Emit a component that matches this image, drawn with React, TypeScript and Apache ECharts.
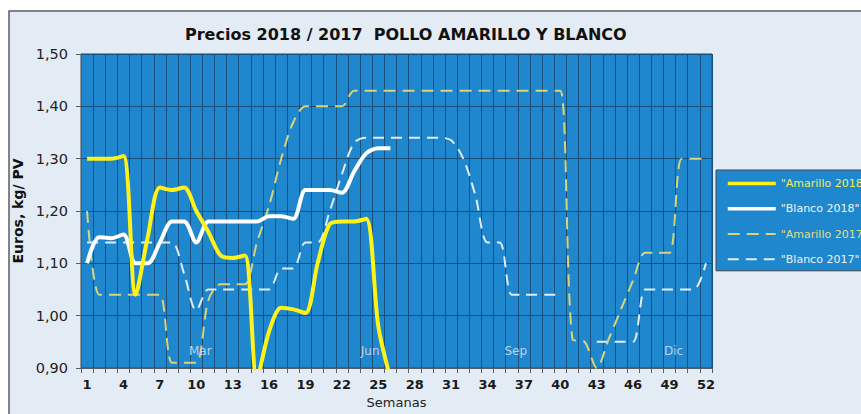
import React, { useEffect, useRef } from "react";
import * as echarts from "echarts";

const weeks = [
  "1", "2", "3", "4", "5", "6", "7", "8", "9", "10", "11", "12", "13",
  "14", "15", "16", "17", "18", "19", "20", "21", "22", "23", "24", "25", "26",
  "27", "28", "29", "30", "31", "32", "33", "34", "35", "36", "37", "38", "39",
  "40", "41", "42", "43", "44", "45", "46", "47", "48", "49", "50", "51", "52",
];

const amarillo2018 = [
  1.30, 1.30, 1.30, 1.305, 1.04, 1.15, 1.245, 1.24, 1.245, 1.20, 1.16, 1.115, 1.11,
  1.115, 0.88, 0.97, 1.015, 1.012, 1.005, 1.10, 1.175, 1.18, 1.18, 1.185, 0.98, 0.88,
  null, null, null, null, null, null, null, null, null, null, null, null, null,
  null, null, null, null, null, null, null, null, null, null, null, null, null,
];

const blanco2018 = [
  1.10, 1.15, 1.148, 1.155, 1.10, 1.10, 1.14, 1.18, 1.18, 1.14, 1.18, 1.18, 1.18,
  1.18, 1.18, 1.19, 1.19, 1.185, 1.24, 1.24, 1.24, 1.235, 1.275, 1.31, 1.32, 1.32,
  null, null, null, null, null, null, null, null, null, null, null, null, null,
  null, null, null, null, null, null, null, null, null, null, null, null, null,
];

const amarillo2017 = [
  1.20, 1.04, 1.04, 1.04, 1.04, 1.04, 1.04, 0.91, 0.91, 0.91, 1.03, 1.06, 1.06,
  1.06, 1.14, 1.21, 1.30, 1.37, 1.40, 1.40, 1.40, 1.40, 1.43, 1.43, 1.43, 1.43,
  1.43, 1.43, 1.43, 1.43, 1.43, 1.43, 1.43, 1.43, 1.43, 1.43, 1.43, 1.43, 1.43,
  1.43, 0.955, 0.95, 0.90, 0.956, 1.012, 1.068, 1.12, 1.12, 1.12, 1.30, 1.30, 1.30,
];

const blanco2017 = [
  1.14, 1.14, 1.14, 1.14, 1.14, 1.14, 1.14, 1.14, 1.08, 1.01, 1.05, 1.05, 1.05,
  1.05, 1.05, 1.05, 1.09, 1.09, 1.14, 1.14, 1.20, 1.27, 1.33, 1.34, 1.34, 1.34,
  1.34, 1.34, 1.34, 1.34, 1.335, 1.30, 1.23, 1.14, 1.14, 1.04, 1.04, 1.04, 1.04,
  1.04, null, null, 0.95, 0.95, 0.95, 0.95, 1.05, 1.05, 1.05, 1.05, 1.05, 1.10,
];

const monthLabels = ["Mar", "Jun", "Sep", "Dic"];
const monthWeeks = ["10", "24", "36", "49"];
const monthLabelY = 0.933;

const seriesNames = ['"Amarillo 2018"', '"Blanco 2018"', '"Amarillo 2017"', '"Blanco 2017"'];

const FONT = "DejaVu Sans, Verdana, sans-serif";

export default function App() {
  const ref = useRef<HTMLDivElement>(null);

  useEffect(() => {
    if (!ref.current) return;
    const chart = echarts.init(ref.current, null, { renderer: "svg" });

    const colA18 = "#FFF21A";
    const colB18 = "#FFFFFF";
    const colA17 = "#D9D47A";
    const colB17 = "#E4ECF6";

    chart.setOption({
      animation: false,
      backgroundColor: "#FFFFFF",
      textStyle: { fontFamily: FONT },
      graphic: [
        {
          type: "rect",
          silent: true,
          z: -10,
          shape: { x: 9, y: 11, width: 900, height: 440 },
          style: { fill: "#E3ECF5", stroke: "#5a5f66", lineWidth: 1.5 },
        },
      ],
      title: {
        text: "Precios 2018 / 2017  POLLO AMARILLO Y BLANCO",
        left: 180,
        top: 21,
        textStyle: { fontFamily: FONT, fontSize: 16, fontWeight: "bold", color: "#111" },
      },
      legend: {
        orient: "vertical",
        left: 716,
        top: 170,
        padding: [8, 10, 6, 10],
        itemWidth: 48,
        itemHeight: 14,
        itemGap: 14,
        backgroundColor: "#1e87cd",
        borderColor: "#3d4650",
        borderWidth: 1,
        itemStyle: { opacity: 0 },
        data: [
          { name: seriesNames[0], textStyle: { color: "#F2EC5A" }, lineStyle: { width: 3.5 } },
          { name: seriesNames[1], textStyle: { color: "#F2F6FC" }, lineStyle: { width: 3.5 } },
          { name: seriesNames[2], textStyle: { color: "#E2DC86" }, lineStyle: { width: 2 } },
          { name: seriesNames[3], textStyle: { color: "#EEF2F8" }, lineStyle: { width: 2 } },
        ],
        textStyle: { fontFamily: FONT, fontSize: 11 },
      },
      grid: {
        left: 81,
        top: 54,
        right: 149,
        bottom: 42,
        show: true,
        backgroundColor: "#1e87cd",
        borderColor: "#3a4652",
        borderWidth: 1,
      },
      xAxis: {
        type: "category",
        data: weeks,
        boundaryGap: true,
        name: "Semanas",
        nameLocation: "middle",
        nameGap: 28,
        nameTextStyle: { fontFamily: FONT, fontSize: 13, color: "#222" },
        axisLine: { lineStyle: { color: "#555c63", width: 1 } },
        axisTick: { show: true, interval: 0, length: 5, lineStyle: { color: "#555c63" } },
        axisLabel: {
          interval: 2,
          margin: 10,
          fontFamily: FONT,
          fontSize: 13,
          fontWeight: "bold",
          color: "#1a1a1a",
        },
        splitLine: { show: true, interval: 0, lineStyle: { color: "#184f7d", width: 1 } },
      },
      yAxis: {
        type: "value",
        min: 0.9,
        max: 1.5,
        interval: 0.1,
        name: "Euros, kg/ PV",
        nameLocation: "middle",
        nameGap: 56,
        nameTextStyle: { fontFamily: FONT, fontSize: 14, fontWeight: "bold", color: "#111" },
        axisLine: { show: true, lineStyle: { color: "#555c63" } },
        axisTick: { show: true, length: 5, lineStyle: { color: "#555c63" } },
        axisLabel: {
          margin: 13,
          fontFamily: FONT,
          fontSize: 14.5,
          color: "#222",
          formatter: (v: number) => v.toFixed(2).replace(".", ","),
        },
        splitLine: { show: true, lineStyle: { color: "#184f7d", width: 1 } },
      },
      series: [
        {
          name: seriesNames[3],
          type: "line",
          data: blanco2017,
          smooth: 0.3,
          symbol: "none",
          connectNulls: false,
          lineStyle: { color: colB17, width: 2, type: [11, 7] },
          itemStyle: { color: colB17 },
          z: 2,
          markPoint: {
            symbol: "circle",
            symbolSize: 0,
            silent: true,
            label: {
              show: true,
              position: "inside",
              offset: [4, 0],
              formatter: (p: any) => p.name,
              color: "#B9D4EE",
              fontFamily: FONT,
              fontSize: 12,
            },
            data: monthLabels.map((m, i) => ({ name: m, coord: [monthWeeks[i], monthLabelY] })),
          },
        },
        {
          name: seriesNames[2],
          type: "line",
          data: amarillo2017,
          smooth: 0.3,
          symbol: "none",
          lineStyle: { color: colA17, width: 2, type: [12, 7] },
          itemStyle: { color: colA17 },
          z: 3,
        },
        {
          name: seriesNames[1],
          type: "line",
          data: blanco2018,
          smooth: 0.3,
          symbol: "none",
          lineStyle: { color: colB18, width: 4 },
          itemStyle: { color: colB18 },
          z: 4,
        },
        {
          name: seriesNames[0],
          type: "line",
          data: amarillo2018,
          smooth: 0.3,
          symbol: "none",
          lineStyle: { color: colA18, width: 4 },
          itemStyle: { color: colA18 },
          z: 5,
        },
      ],
    });

    return () => chart.dispose();
  }, []);

  return (
    <div
      ref={ref}
      style={{ position: "fixed", left: 0, top: 0, width: 861, height: 414 }}
    />
  );
}
